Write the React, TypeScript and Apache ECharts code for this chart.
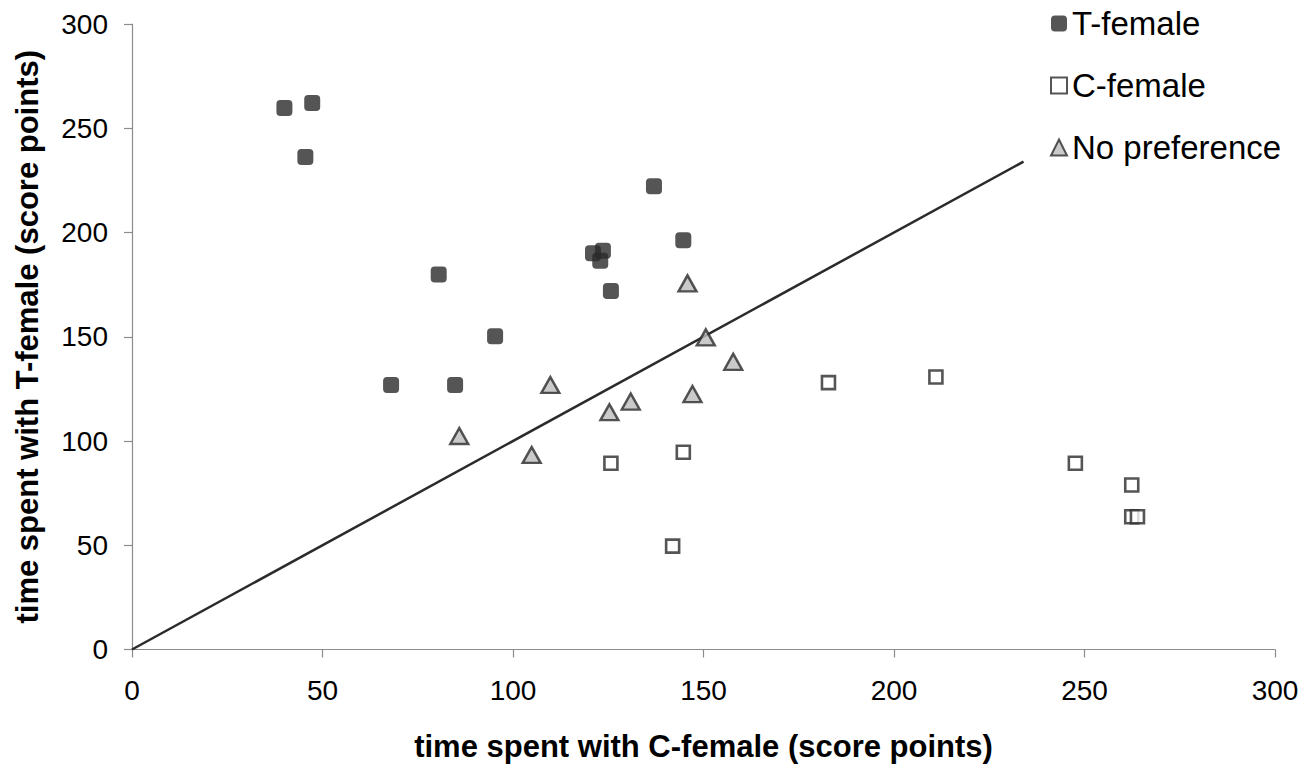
import React, { useEffect, useRef } from "react";
import * as echarts from "echarts";

const tFemaleX = [40, 47.3, 45.5, 80.5, 95.3, 68, 84.8, 137, 144.7, 121, 123.6, 122.9, 125.7];
const tFemaleY = [259.7, 262.1, 236.2, 179.8, 150.2, 126.8, 126.8, 222.2, 196.3, 190, 191.3, 186.4, 172];
const cFemaleX = [125.7, 144.7, 141.9, 182.8, 211, 247.6, 262.4, 262.4, 263.9];
const cFemaleY = [89.3, 94.6, 49.6, 128, 130.7, 89.3, 78.9, 63.7, 63.7];
const noPrefX = [145.8, 150.6, 157.8, 147.1, 130.9, 125.3, 109.8, 85.9, 104.9];
const noPrefY = [175.6, 149.7, 138, 122.5, 118.9, 113.8, 126.9, 102.4, 93.3];
const equalityLineX = [0, 234];
const equalityLineY = [0, 234];
const axisTicks = [0, 50, 100, 150, 200, 250, 300];

const zip = (xs: number[], ys: number[]) => xs.map((x, i) => [x, ys[i]]);

const FONT = "'Liberation Sans', Arial, sans-serif";

export default function App() {
  const ref = useRef<HTMLDivElement>(null);
  useEffect(() => {
    if (!ref.current) return;
    const chart = echarts.init(ref.current, null, { renderer: "svg" });
    const axisCommon = {
      type: "value" as const,
      min: axisTicks[0],
      max: axisTicks[axisTicks.length - 1],
      interval: 50,
      axisLine: { show: true, lineStyle: { color: "#8c8c8c", width: 1.2 } },
      axisTick: { show: true, inside: false, length: 8, lineStyle: { color: "#8c8c8c", width: 1.2 } },
      splitLine: { show: false },
      nameLocation: "middle" as const,
    };
    chart.setOption({
      animation: false,
      backgroundColor: "#ffffff",
      grid: {
        left: 132,
        right: 28,
        top: 24,
        bottom: 114.5,
        containLabel: false,
        outerBoundsMode: "none",
      },
      xAxis: {
        ...axisCommon,
        name: "time spent with C-female (score points)",
        nameGap: 81,
        nameTextStyle: { fontFamily: FONT, fontSize: 31, fontWeight: "bold", color: "#000" },
        axisLabel: { fontFamily: FONT, fontSize: 28, color: "#000", margin: 27 },
      },
      yAxis: {
        ...axisCommon,
        name: "time spent with T-female (score points)",
        nameGap: 89,
        nameTextStyle: { fontFamily: FONT, fontSize: 31, fontWeight: "bold", color: "#000" },
        axisLabel: { fontFamily: FONT, fontSize: 28, color: "#000", margin: 24 },
      },
      legend: {
        orient: "vertical",
        left: 1045,
        top: 0,
        itemWidth: 16,
        itemHeight: 16,
        itemGap: 25,
        itemTextGap: 17,
        textStyle: { fontFamily: FONT, fontSize: 33, color: "#000", lineHeight: 37 },
        data: ["T-female", "C-female", "No preference"],
      },
      series: [
        {
          type: "line",
          name: "equality",
          data: zip(equalityLineX, equalityLineY),
          showSymbol: false,
          symbol: "none",
          lineStyle: { color: "#2b2b2b", width: 2.5 },
          silent: true,
          z: 1,
        },
        {
          type: "scatter",
          name: "T-female",
          data: zip(tFemaleX, tFemaleY),
          symbol: "roundRect",
          symbolSize: 16,
          itemStyle: { color: "#2a2a2a" },
          z: 3,
        },
        {
          type: "scatter",
          name: "C-female",
          data: zip(cFemaleX, cFemaleY),
          symbol: "rect",
          symbolSize: 13,
          itemStyle: { color: "#ffffff", borderColor: "#2b2b2b", borderWidth: 2.6 },
          z: 3,
        },
        {
          type: "scatter",
          name: "No preference",
          data: zip(noPrefX, noPrefY),
          symbol: "triangle",
          symbolSize: [18, 16],
          itemStyle: { color: "#bdbdbd", borderColor: "#2b2b2b", borderWidth: 2.4 },
          z: 3,
        },
      ],
    });
    return () => chart.dispose();
  }, []);
  return (
    <div
      ref={ref}
      style={{ position: "fixed", left: 0, top: 0, width: 1303, height: 764, background: "#fff" }}
    />
  );
}
